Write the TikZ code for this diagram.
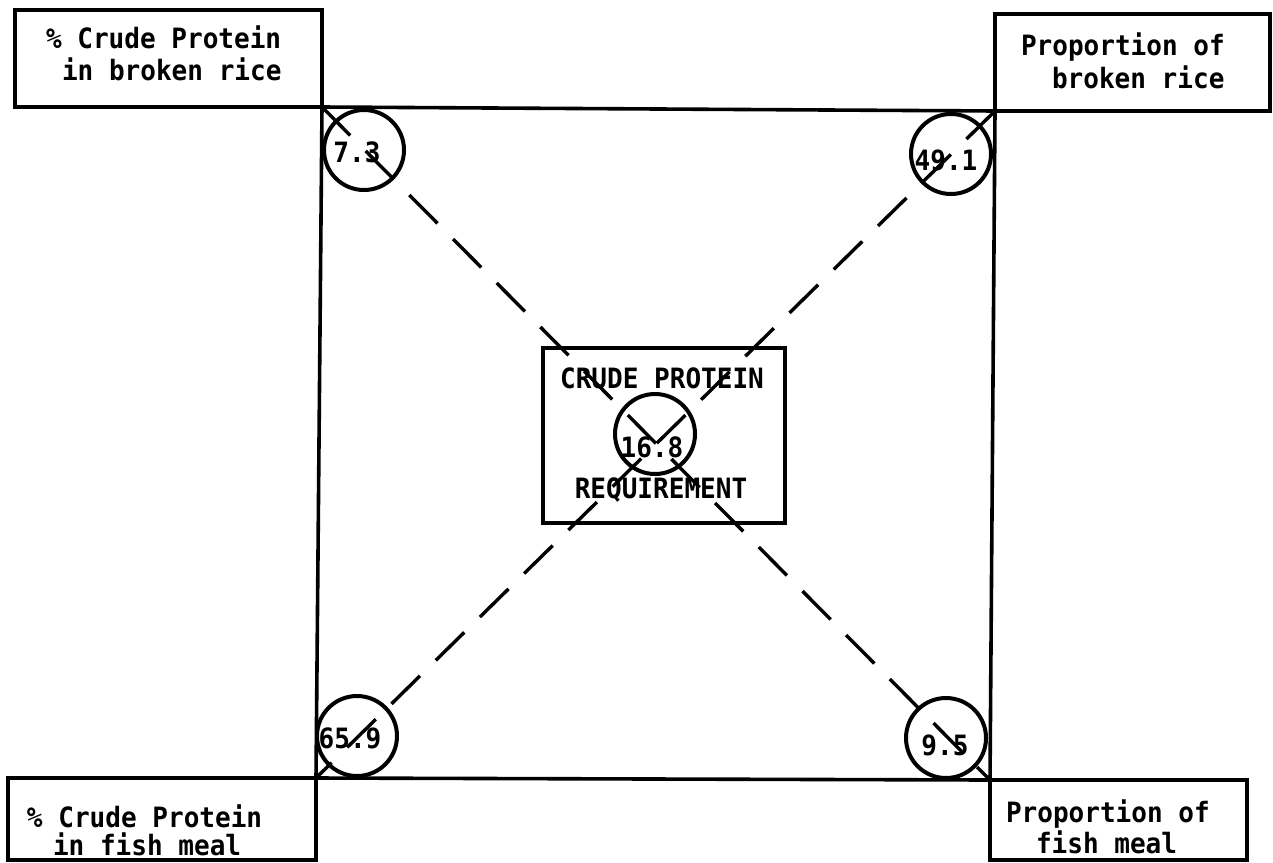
\documentclass[tikz,border=0pt]{standalone}
\usepackage{fontspec}
\newfontfamily\tw[FakeStretch=0.93]{DejaVu Sans Mono}
\begin{document}
\begin{tikzpicture}[x=1pt,y=-1pt,
  box/.style={rectangle, draw, line width=3.6pt, inner sep=0pt, outer sep=0pt},
  txt/.style={font=\tw\bfseries\fontsize{28}{30}\selectfont, inner sep=0pt, outer sep=0pt, anchor=base west},
  num/.style={font=\tw\bfseries\fontsize{28}{30}\selectfont, inner sep=0pt, outer sep=0pt, anchor=base},
  ring/.style={circle, draw, line width=4pt, minimum size=80pt, inner sep=0pt},
  frame/.style={line width=3.6pt, line join=miter},
  diag/.style={line width=3.4pt, dash pattern=on 40pt off 22pt}]
\useasboundingbox (0,0) rectangle (1273,862);
% corner boxes
\node[box, minimum width=307pt, minimum height=97pt] (tl) at (168.5,58.5) {};
\node[box, minimum width=275pt, minimum height=97pt] (tr) at (1132.5,62.5) {};
\node[box, minimum width=308pt, minimum height=82pt] (bl) at (162,819) {};
\node[box, minimum width=257pt, minimum height=80pt] (br) at (1118.5,820) {};
% labels
\node[txt] (tl1) at (46,48) {\% Crude Protein};
\node[txt] (tl2) at (62,80) {in broken rice};
\node[txt] (tr1) at (1021,55) {Proportion of};
\node[txt] (tr2) at (1052,88) {broken rice};
\node[txt] (bl1) at (27,827) {\% Crude Protein};
\node[txt] (bl2) at (53,855) {in fish meal};
\node[txt] (br1) at (1006,822) {Proportion of};
\node[txt] (br2) at (1036,853) {fish meal};
% square
\draw[frame] (tl.south east) -- (tr.south west) -- (br.north west) -- (bl.north east) -- cycle;
% central box
\node[box, minimum width=242pt, minimum height=175pt] (req) at (664,435.5) {};
\node[num] (crude) at (662,388) {CRUDE PROTEIN};
\node[num] (requ) at (661,498) {REQUIREMENT};
% circles
\node[ring] (c1) at (364,150) {};
\node[ring] (c2) at (951,154) {};
\node[ring] (c3) at (655,434) {};
\node[ring] (c4) at (357,736) {};
\node[ring] (c5) at (946,738) {};
\node[num] (n1) at (357,162) {7.3};
\node[num] (n2) at (946,170) {49.1};
\node[num] (n3) at (652,457) {16.8};
\node[num] (n4) at (350,748) {65.9};
\node[num] (n5) at (945,755) {9.5};
% diagonals
\draw[diag] (tl.south east) -- (br.north west);
\draw[diag] (tr.south west) -- (bl.north east);
\end{tikzpicture}
\end{document}
